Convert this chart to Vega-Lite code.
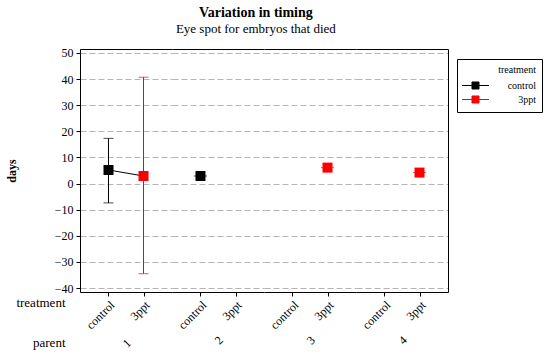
{
  "$schema": "https://vega.github.io/schema/vega-lite/v6.json",
  "title": {"text": "Variation in timing", "subtitle": "Eye spot for embryos that died", "font": "Liberation Serif", "fontSize": 14, "fontWeight": "bold", "color": "#000", "subtitleFont": "Liberation Serif", "subtitleFontSize": 13, "subtitleColor": "#000", "anchor": "middle", "offset": 11, "subtitlePadding": 3, "dx": -18},
  "data": {"values": [
    {"parent": "1", "treatment": "control", "days": 5.2, "lo": -7.4, "hi": 17.3},
    {"parent": "1", "treatment": "3ppt", "days": 2.9, "lo": -34.5, "hi": 40.7},
    {"parent": "2", "treatment": "control", "days": 2.9},
    {"parent": "3", "treatment": "3ppt", "days": 6.1},
    {"parent": "4", "treatment": "3ppt", "days": 4.2}
  ]},
  "spacing": 0,
  "bounds": "flush",
  "resolve": {"scale": {"color": "shared"}, "legend": {"color": "shared"}},
  "hconcat": [
    {
      "width": 92, "height": 243,
      "transform": [{"filter": "datum.parent == '1'"}],
      "title": {"text": "1", "orient": "bottom", "angle": -45, "frame": "group", "anchor": "middle", "offset": -12, "dx": -4, "font": "Liberation Serif", "fontSize": 12, "fontWeight": "normal", "color": "#000"},
      "layer": [
        {
          "mark": {"type": "rule", "strokeWidth": 1},
          "encoding": {
            "x": {"field": "treatment", "type": "nominal", "scale": {"type": "point", "domain": ["control", "3ppt"], "padding": 0.814}, "axis": {"orient": "top", "labels": false, "ticks": false, "title": null, "domain": true}},
            "y": {"field": "lo", "type": "quantitative", "scale": {"domain": [-41.5, 51.5], "nice": false, "zero": false}, "axis": null},
            "y2": {"field": "hi"},
            "color": {"field": "treatment", "type": "nominal", "scale": {"domain": ["control", "3ppt"], "range": ["#000000", "#ff0000"]}, "legend": {"title": "treatment", "orient": "none", "legendX": 377, "legendY": 10, "symbolType": "M-2,0L2,0M-0.52,-0.52L0.52,-0.52L0.52,0.52L-0.52,0.52Z", "symbolSize": 182, "symbolStrokeWidth": 1, "symbolOffset": 5, "labelFontSize": 10, "titleFontSize": 10, "titleFontWeight": "normal", "labelAlign": "right", "labelOffset": 53, "titleAlign": "right", "titleAnchor": "end", "titlePadding": 3, "rowPadding": 0, "strokeColor": "#000", "padding": 6, "encode": {"symbols": {"update": {"stroke": {"scale": "color", "field": "value"}, "fill": {"scale": "color", "field": "value"}}}}}}
          }
        },
        {
          "mark": {"type": "tick", "thickness": 1, "size": 10},
          "encoding": {
            "x": {"field": "treatment", "type": "nominal", "scale": {"type": "point", "domain": ["control", "3ppt"], "padding": 0.814}, "axis": null},
            "y": {"field": "lo", "type": "quantitative", "scale": {"domain": [-41.5, 51.5], "nice": false, "zero": false}, "axis": null},
            "color": {"field": "treatment", "type": "nominal", "scale": {"domain": ["control", "3ppt"], "range": ["#000000", "#ff0000"]}, "legend": {"title": "treatment", "orient": "none", "legendX": 377, "legendY": 10, "symbolType": "M-2,0L2,0M-0.52,-0.52L0.52,-0.52L0.52,0.52L-0.52,0.52Z", "symbolSize": 182, "symbolStrokeWidth": 1, "symbolOffset": 5, "labelFontSize": 10, "titleFontSize": 10, "titleFontWeight": "normal", "labelAlign": "right", "labelOffset": 53, "titleAlign": "right", "titleAnchor": "end", "titlePadding": 3, "rowPadding": 0, "strokeColor": "#000", "padding": 6, "encode": {"symbols": {"update": {"stroke": {"scale": "color", "field": "value"}, "fill": {"scale": "color", "field": "value"}}}}}}
          }
        },
        {
          "mark": {"type": "tick", "thickness": 1, "size": 10},
          "encoding": {
            "x": {"field": "treatment", "type": "nominal", "scale": {"type": "point", "domain": ["control", "3ppt"], "padding": 0.814}, "axis": null},
            "y": {"field": "hi", "type": "quantitative", "scale": {"domain": [-41.5, 51.5], "nice": false, "zero": false}, "axis": null},
            "color": {"field": "treatment", "type": "nominal", "scale": {"domain": ["control", "3ppt"], "range": ["#000000", "#ff0000"]}, "legend": {"title": "treatment", "orient": "none", "legendX": 377, "legendY": 10, "symbolType": "M-2,0L2,0M-0.52,-0.52L0.52,-0.52L0.52,0.52L-0.52,0.52Z", "symbolSize": 182, "symbolStrokeWidth": 1, "symbolOffset": 5, "labelFontSize": 10, "titleFontSize": 10, "titleFontWeight": "normal", "labelAlign": "right", "labelOffset": 53, "titleAlign": "right", "titleAnchor": "end", "titlePadding": 3, "rowPadding": 0, "strokeColor": "#000", "padding": 6, "encode": {"symbols": {"update": {"stroke": {"scale": "color", "field": "value"}, "fill": {"scale": "color", "field": "value"}}}}}}
          }
        },
        {
          "mark": {"type": "line", "color": "#000000", "strokeWidth": 1},
          "encoding": {
            "x": {"field": "treatment", "type": "nominal", "scale": {"type": "point", "domain": ["control", "3ppt"], "padding": 0.814}, "axis": null},
            "y": {"field": "days", "type": "quantitative", "scale": {"domain": [-41.5, 51.5], "nice": false, "zero": false}, "axis": null}
          }
        },
        {
          "mark": {"type": "square", "size": 100, "opacity": 1, "filled": true},
          "encoding": {
            "x": {"field": "treatment", "type": "nominal", "scale": {"type": "point", "domain": ["control", "3ppt"], "padding": 0.814}, "axis": {"orient": "bottom", "labelAngle": -45, "title": ["treatment", "parent"], "titleX": -15, "titleY": 10, "titleAlign": "right", "titleAngle": 0, "titleBaseline": "middle", "titleLineHeight": 40, "titleFontWeight": "normal", "titleFontSize": 13}},
            "y": {"field": "days", "type": "quantitative", "scale": {"domain": [-41.5, 51.5], "nice": false, "zero": false}, "axis": {"title": "days", "titleFontWeight": "bold", "titleFontSize": 12, "values": [-40, -30, -20, -10, 0, 10, 20, 30, 40, 50], "grid": true, "titlePadding": 36}},
            "color": {"field": "treatment", "type": "nominal", "scale": {"domain": ["control", "3ppt"], "range": ["#000000", "#ff0000"]}, "legend": {"title": "treatment", "orient": "none", "legendX": 377, "legendY": 10, "symbolType": "M-2,0L2,0M-0.52,-0.52L0.52,-0.52L0.52,0.52L-0.52,0.52Z", "symbolSize": 182, "symbolStrokeWidth": 1, "symbolOffset": 5, "labelFontSize": 10, "titleFontSize": 10, "titleFontWeight": "normal", "labelAlign": "right", "labelOffset": 53, "titleAlign": "right", "titleAnchor": "end", "titlePadding": 3, "rowPadding": 0, "strokeColor": "#000", "padding": 6, "encode": {"symbols": {"update": {"stroke": {"scale": "color", "field": "value"}, "fill": {"scale": "color", "field": "value"}}}}}}
          }
        }
      ],
      "resolve": {"axis": {"x": "independent", "y": "independent"}}
    },
    {
      "width": 92, "height": 243,
      "transform": [{"filter": "datum.parent == '2'"}],
      "title": {"text": "2", "orient": "bottom", "angle": -45, "frame": "group", "anchor": "middle", "offset": 3, "dx": -4, "font": "Liberation Serif", "fontSize": 12, "fontWeight": "normal", "color": "#000"},
      "layer": [
        {
          "mark": {"type": "tick", "thickness": 1, "size": 13},
          "encoding": {
            "x": {"field": "treatment", "type": "nominal", "scale": {"type": "point", "domain": ["control", "3ppt"], "padding": 0.814}, "axis": {"orient": "top", "labels": false, "ticks": false, "title": null, "domain": true}},
            "y": {"field": "days", "type": "quantitative", "scale": {"domain": [-41.5, 51.5], "nice": false, "zero": false}, "axis": null},
            "color": {"field": "treatment", "type": "nominal", "scale": {"domain": ["control", "3ppt"], "range": ["#000000", "#ff0000"]}, "legend": {"title": "treatment", "orient": "none", "legendX": 377, "legendY": 10, "symbolType": "M-2,0L2,0M-0.52,-0.52L0.52,-0.52L0.52,0.52L-0.52,0.52Z", "symbolSize": 182, "symbolStrokeWidth": 1, "symbolOffset": 5, "labelFontSize": 10, "titleFontSize": 10, "titleFontWeight": "normal", "labelAlign": "right", "labelOffset": 53, "titleAlign": "right", "titleAnchor": "end", "titlePadding": 3, "rowPadding": 0, "strokeColor": "#000", "padding": 6, "encode": {"symbols": {"update": {"stroke": {"scale": "color", "field": "value"}, "fill": {"scale": "color", "field": "value"}}}}}}
          }
        },
        {
          "mark": {"type": "square", "size": 100, "opacity": 1, "filled": true},
          "encoding": {
            "x": {"field": "treatment", "type": "nominal", "scale": {"type": "point", "domain": ["control", "3ppt"], "padding": 0.814}, "axis": {"orient": "bottom", "labelAngle": -45, "title": null}},
            "y": {"field": "days", "type": "quantitative", "scale": {"domain": [-41.5, 51.5], "nice": false, "zero": false}, "axis": {"title": null, "labels": false, "ticks": false, "domain": false, "values": [-40, -30, -20, -10, 0, 10, 20, 30, 40, 50], "grid": true}},
            "color": {"field": "treatment", "type": "nominal", "scale": {"domain": ["control", "3ppt"], "range": ["#000000", "#ff0000"]}, "legend": {"title": "treatment", "orient": "none", "legendX": 377, "legendY": 10, "symbolType": "M-2,0L2,0M-0.52,-0.52L0.52,-0.52L0.52,0.52L-0.52,0.52Z", "symbolSize": 182, "symbolStrokeWidth": 1, "symbolOffset": 5, "labelFontSize": 10, "titleFontSize": 10, "titleFontWeight": "normal", "labelAlign": "right", "labelOffset": 53, "titleAlign": "right", "titleAnchor": "end", "titlePadding": 3, "rowPadding": 0, "strokeColor": "#000", "padding": 6, "encode": {"symbols": {"update": {"stroke": {"scale": "color", "field": "value"}, "fill": {"scale": "color", "field": "value"}}}}}}
          }
        }
      ],
      "resolve": {"axis": {"x": "independent", "y": "independent"}}
    },
    {
      "width": 92, "height": 243,
      "transform": [{"filter": "datum.parent == '3'"}],
      "title": {"text": "3", "orient": "bottom", "angle": -45, "frame": "group", "anchor": "middle", "offset": 3, "dx": -4, "font": "Liberation Serif", "fontSize": 12, "fontWeight": "normal", "color": "#000"},
      "layer": [
        {
          "mark": {"type": "tick", "thickness": 1, "size": 13},
          "encoding": {
            "x": {"field": "treatment", "type": "nominal", "scale": {"type": "point", "domain": ["control", "3ppt"], "padding": 0.814}, "axis": {"orient": "top", "labels": false, "ticks": false, "title": null, "domain": true}},
            "y": {"field": "days", "type": "quantitative", "scale": {"domain": [-41.5, 51.5], "nice": false, "zero": false}, "axis": null},
            "color": {"field": "treatment", "type": "nominal", "scale": {"domain": ["control", "3ppt"], "range": ["#000000", "#ff0000"]}, "legend": {"title": "treatment", "orient": "none", "legendX": 377, "legendY": 10, "symbolType": "M-2,0L2,0M-0.52,-0.52L0.52,-0.52L0.52,0.52L-0.52,0.52Z", "symbolSize": 182, "symbolStrokeWidth": 1, "symbolOffset": 5, "labelFontSize": 10, "titleFontSize": 10, "titleFontWeight": "normal", "labelAlign": "right", "labelOffset": 53, "titleAlign": "right", "titleAnchor": "end", "titlePadding": 3, "rowPadding": 0, "strokeColor": "#000", "padding": 6, "encode": {"symbols": {"update": {"stroke": {"scale": "color", "field": "value"}, "fill": {"scale": "color", "field": "value"}}}}}}
          }
        },
        {
          "mark": {"type": "square", "size": 100, "opacity": 1, "filled": true},
          "encoding": {
            "x": {"field": "treatment", "type": "nominal", "scale": {"type": "point", "domain": ["control", "3ppt"], "padding": 0.814}, "axis": {"orient": "bottom", "labelAngle": -45, "title": null}},
            "y": {"field": "days", "type": "quantitative", "scale": {"domain": [-41.5, 51.5], "nice": false, "zero": false}, "axis": {"title": null, "labels": false, "ticks": false, "domain": false, "values": [-40, -30, -20, -10, 0, 10, 20, 30, 40, 50], "grid": true}},
            "color": {"field": "treatment", "type": "nominal", "scale": {"domain": ["control", "3ppt"], "range": ["#000000", "#ff0000"]}, "legend": {"title": "treatment", "orient": "none", "legendX": 377, "legendY": 10, "symbolType": "M-2,0L2,0M-0.52,-0.52L0.52,-0.52L0.52,0.52L-0.52,0.52Z", "symbolSize": 182, "symbolStrokeWidth": 1, "symbolOffset": 5, "labelFontSize": 10, "titleFontSize": 10, "titleFontWeight": "normal", "labelAlign": "right", "labelOffset": 53, "titleAlign": "right", "titleAnchor": "end", "titlePadding": 3, "rowPadding": 0, "strokeColor": "#000", "padding": 6, "encode": {"symbols": {"update": {"stroke": {"scale": "color", "field": "value"}, "fill": {"scale": "color", "field": "value"}}}}}}
          }
        }
      ],
      "resolve": {"axis": {"x": "independent", "y": "independent"}}
    },
    {
      "width": 92, "height": 243,
      "transform": [{"filter": "datum.parent == '4'"}],
      "title": {"text": "4", "orient": "bottom", "angle": -45, "frame": "group", "anchor": "middle", "offset": 3, "dx": -4, "font": "Liberation Serif", "fontSize": 12, "fontWeight": "normal", "color": "#000"},
      "layer": [
        {
          "mark": {"type": "tick", "thickness": 1, "size": 13},
          "encoding": {
            "x": {"field": "treatment", "type": "nominal", "scale": {"type": "point", "domain": ["control", "3ppt"], "padding": 0.814}, "axis": {"orient": "top", "labels": false, "ticks": false, "title": null, "domain": true}},
            "y": {"field": "days", "type": "quantitative", "scale": {"domain": [-41.5, 51.5], "nice": false, "zero": false}, "axis": {"orient": "right", "labels": false, "ticks": false, "grid": false, "title": null, "domain": true}},
            "color": {"field": "treatment", "type": "nominal", "scale": {"domain": ["control", "3ppt"], "range": ["#000000", "#ff0000"]}, "legend": {"title": "treatment", "orient": "none", "legendX": 377, "legendY": 10, "symbolType": "M-2,0L2,0M-0.52,-0.52L0.52,-0.52L0.52,0.52L-0.52,0.52Z", "symbolSize": 182, "symbolStrokeWidth": 1, "symbolOffset": 5, "labelFontSize": 10, "titleFontSize": 10, "titleFontWeight": "normal", "labelAlign": "right", "labelOffset": 53, "titleAlign": "right", "titleAnchor": "end", "titlePadding": 3, "rowPadding": 0, "strokeColor": "#000", "padding": 6, "encode": {"symbols": {"update": {"stroke": {"scale": "color", "field": "value"}, "fill": {"scale": "color", "field": "value"}}}}}}
          }
        },
        {
          "mark": {"type": "square", "size": 100, "opacity": 1, "filled": true},
          "encoding": {
            "x": {"field": "treatment", "type": "nominal", "scale": {"type": "point", "domain": ["control", "3ppt"], "padding": 0.814}, "axis": {"orient": "bottom", "labelAngle": -45, "title": null}},
            "y": {"field": "days", "type": "quantitative", "scale": {"domain": [-41.5, 51.5], "nice": false, "zero": false}, "axis": {"title": null, "labels": false, "ticks": false, "domain": false, "values": [-40, -30, -20, -10, 0, 10, 20, 30, 40, 50], "grid": true}},
            "color": {"field": "treatment", "type": "nominal", "scale": {"domain": ["control", "3ppt"], "range": ["#000000", "#ff0000"]}, "legend": {"title": "treatment", "orient": "none", "legendX": 377, "legendY": 10, "symbolType": "M-2,0L2,0M-0.52,-0.52L0.52,-0.52L0.52,0.52L-0.52,0.52Z", "symbolSize": 182, "symbolStrokeWidth": 1, "symbolOffset": 5, "labelFontSize": 10, "titleFontSize": 10, "titleFontWeight": "normal", "labelAlign": "right", "labelOffset": 53, "titleAlign": "right", "titleAnchor": "end", "titlePadding": 3, "rowPadding": 0, "strokeColor": "#000", "padding": 6, "encode": {"symbols": {"update": {"stroke": {"scale": "color", "field": "value"}, "fill": {"scale": "color", "field": "value"}}}}}}
          }
        }
      ],
      "resolve": {"axis": {"x": "independent", "y": "independent"}}
    }
  ],
  "config": {
    "font": "Liberation Serif",
    "background": "#ffffff",
    "view": {"stroke": null},
    "axis": {"labelFont": "Liberation Serif", "labelFontSize": 12, "labelColor": "#000", "titleFont": "Liberation Serif", "titleColor": "#000", "domainColor": "#000", "domainWidth": 1, "tickColor": "#000", "tickSize": 4, "labelPadding": 3, "grid": false},
    "axisY": {"gridDash": [6, 3], "gridColor": "#b4b4b4"},
    "legend": {"labelFont": "Liberation Serif", "titleFont": "Liberation Serif", "labelColor": "#000", "titleColor": "#000"}
  }
}
